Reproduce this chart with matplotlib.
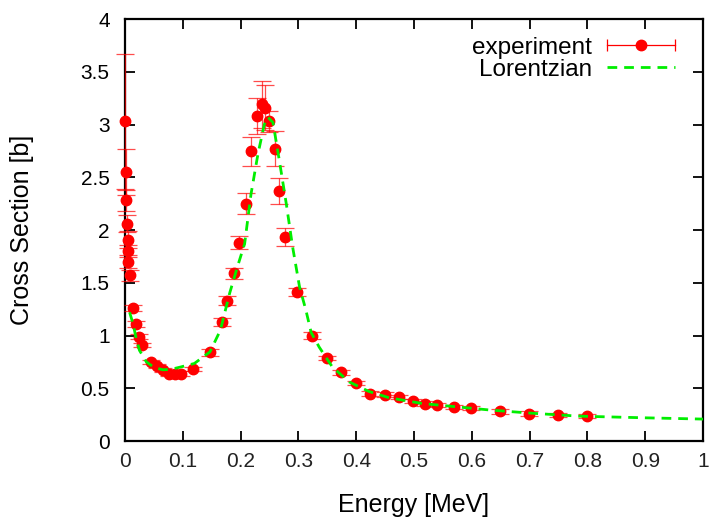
import numpy as np
import matplotlib.pyplot as plt
from matplotlib.lines import Line2D
from matplotlib.legend_handler import HandlerBase

energy = [0.0005, 0.001, 0.002, 0.004, 0.005, 0.006, 0.006, 0.008,
          0.013, 0.019, 0.025, 0.029, 0.045, 0.055, 0.066, 0.076, 0.086, 0.097,
          0.118, 0.147, 0.168, 0.177, 0.189, 0.198, 0.209, 0.218, 0.228, 0.237,
          0.243, 0.249, 0.259, 0.267, 0.277, 0.297, 0.324, 0.349, 0.374, 0.399,
          0.424, 0.449, 0.474, 0.499, 0.519, 0.539, 0.569, 0.599, 0.649, 0.699,
          0.749, 0.799]
xsec = [3.03, 2.55, 2.28, 2.06, 1.91, 1.80, 1.70, 1.57,
        1.26, 1.11, 0.99, 0.91, 0.75, 0.71, 0.67, 0.635, 0.635, 0.64,
        0.68, 0.84, 1.13, 1.33, 1.59, 1.88, 2.25, 2.745, 3.08, 3.19,
        3.16, 3.03, 2.77, 2.37, 1.93, 1.41, 1.00, 0.79, 0.65, 0.55,
        0.45, 0.44, 0.42, 0.38, 0.355, 0.34, 0.325, 0.31, 0.28, 0.26,
        0.245, 0.235]
xsec_err = [0.64, 0.22, 0.10, 0.08, 0.08, 0.06, 0.06, 0.05,
            0.03, 0.03, 0.02, 0.02, 0.02, 0.02, 0.02, 0.02, 0.02, 0.02,
            0.02, 0.03, 0.04, 0.04, 0.05, 0.06, 0.10, 0.14, 0.17, 0.22,
            0.21, 0.10, 0.165, 0.12, 0.085, 0.04, 0.03, 0.02, 0.02, 0.02,
            0.02, 0.02, 0.02, 0.02, 0.02, 0.02, 0.02, 0.02, 0.02, 0.02,
            0.02, 0.02]

# fitted curve, sampled from the reference figure
fit_x = [0.008, 0.014, 0.0195, 0.025, 0.037, 0.051, 0.066, 0.08, 0.095,
         0.12, 0.147, 0.165, 0.181, 0.195, 0.207, 0.218, 0.23, 0.241, 0.247,
         0.256, 0.267, 0.279, 0.29, 0.302, 0.313, 0.322, 0.336, 0.359, 0.388,
         0.422, 0.457, 0.514, 0.572, 0.629, 0.7, 0.784, 0.9, 1.0]
fit_y = [1.22, 1.11, 0.97, 0.86, 0.75, 0.695, 0.675, 0.68, 0.70,
         0.735, 0.845, 1.05, 1.40, 1.66, 1.87, 2.34, 2.72, 3.00, 3.07,
         3.02, 2.66, 2.25, 1.84, 1.46, 1.24, 1.03, 0.89, 0.70, 0.56,
         0.47, 0.41, 0.356, 0.325, 0.295, 0.265, 0.236, 0.22, 0.208]


class HandlerXErr(HandlerBase):
    # gnuplot-like legend sample: horizontal bar with caps and a dot
    def create_artists(self, legend, orig_handle, xdescent, ydescent,
                       width, height, fontsize, trans):
        x0, x1 = -xdescent, -xdescent + width
        y = height / 2 - ydescent
        bar = Line2D([x0, x1], [y, y], color='red', lw=0.9, transform=trans)
        caps = Line2D([x0, x1], [y, y], ls='none', marker='|', markersize=9,
                      mew=0.9, color='red', transform=trans)
        dot = Line2D([(x0 + x1) / 2], [y], ls='none', marker='o', markersize=7.5,
                     color='red', transform=trans)
        return [bar, caps, dot]


plt.rcParams['font.family'] = ['Liberation Sans', 'DejaVu Sans']

fig = plt.figure(figsize=(7.13, 5.18), dpi=100)
ax = fig.add_axes([0.1753, 0.1486, 0.8107, 0.8147])

ax.errorbar(energy, xsec, yerr=xsec_err, fmt='o', color='red', markersize=7.5,
            ecolor=(1, 0, 0, 0.7), elinewidth=0.9, capsize=6.5, capthick=0.9,
            clip_on=False, zorder=3)
fit_line, = ax.plot(fit_x, fit_y, color='#00ee00', linestyle=(0, (3.5, 2.5)),
                    linewidth=2, zorder=4)

ax.set_xlim(0, 1)
ax.set_ylim(0, 4)
ax.set_xticks(np.arange(0, 1.01, 0.1))
ax.set_xticklabels(['0', '0.1', '0.2', '0.3', '0.4', '0.5', '0.6', '0.7', '0.8', '0.9', '1'])
ax.set_yticks(np.arange(0, 4.01, 0.5))
ax.set_yticklabels(['0', '0.5', '1', '1.5', '2', '2.5', '3', '3.5', '4'])
ax.tick_params(direction='in', top=True, right=True, length=7, width=1.3,
               labelsize=15, pad=8, colors='black')
ax.tick_params(axis='y', pad=11)
ax.tick_params(axis='x', labelcolor='#222222')
for s in ax.spines.values():
    s.set_linewidth(1.6)

ax.set_xlabel('Energy [MeV]', fontsize=18)
ax.xaxis.set_label_coords(0.5, -0.1235)
ax.set_ylabel('Cross Section [b]', fontsize=18)
ax.yaxis.set_label_coords(-0.157, 0.5)

exp_proxy = Line2D([], [], color='red')
ax.legend([exp_proxy, fit_line], ['experiment', 'Lorentzian'],
          handler_map={exp_proxy: HandlerXErr()},
          loc='upper right', bbox_to_anchor=(0.985, 1.004),
          frameon=False, markerfirst=False, fontsize=17.5,
          handlelength=2.8, borderaxespad=0.4, borderpad=0.4,
          labelspacing=0.0, handletextpad=0.6)

plt.savefig('out.png', dpi=100)
